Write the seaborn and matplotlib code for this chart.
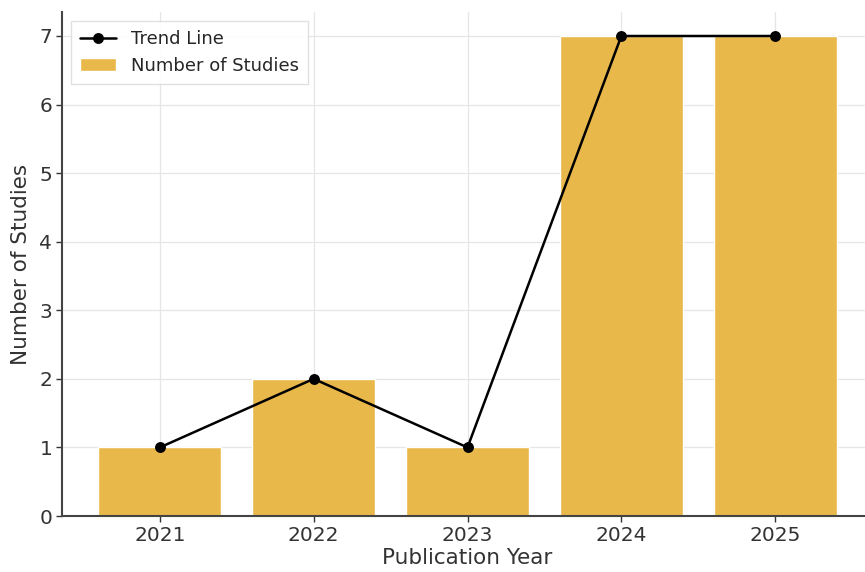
import matplotlib
matplotlib.use("Agg")
import matplotlib.pyplot as plt
import seaborn as sns
import pandas as pd

years = ["2021", "2022", "2023", "2024", "2025"]
counts = [1, 2, 1, 7, 7]

df = pd.DataFrame({"Publication Year": years, "Number of Studies": counts})

sns.set_theme(style="whitegrid")
plt.rcParams['font.family'] = ['DejaVu Sans']

fig = plt.figure(figsize=(8.65, 5.72), dpi=100)
ax = fig.add_axes([62/865, (572-516)/572, (873-62)/865, (516-12)/572])

sns.barplot(data=df, x="Publication Year", y="Number of Studies", color="#E9B84A",
            saturation=1, width=0.8, label="Number of Studies", ax=ax, zorder=2)
sns.pointplot(data=df, x="Publication Year", y="Number of Studies", color="black",
              markers="o", linestyles="-", label="Trend Line", ax=ax,
              markersize=6.5, linewidth=1.8, zorder=3)

ax.set_xlim(-0.636, 4.636)
ax.set_ylim(0, 7.35)
ax.set_yticks(range(0, 8))
ax.grid(True, color="#e6e6e6", linewidth=0.9)
ax.set_axisbelow(True)
for s in ["top", "right"]:
    ax.spines[s].set_visible(False)
for s in ["left", "bottom"]:
    ax.spines[s].set_color("#444444")
    ax.spines[s].set_linewidth(1.5)
ax.tick_params(axis="both", labelsize=14.5, colors="#333333", length=4, width=1,
               direction="out", left=True, bottom=True, pad=3)
ax.set_xlabel("Publication Year", fontsize=15.5, color="#333333", labelpad=2)
ax.set_ylabel("Number of Studies", fontsize=15.5, color="#333333", labelpad=6)

h, l = ax.get_legend_handles_labels()
order = [l.index("Trend Line"), l.index("Number of Studies")]
ax.legend([h[i] for i in order], [l[i] for i in order], loc="upper left",
          fontsize=13, frameon=True, fancybox=False, framealpha=0.9,
          edgecolor="#dddddd", borderpad=0.5)

fig.savefig("out.png", dpi=100)
